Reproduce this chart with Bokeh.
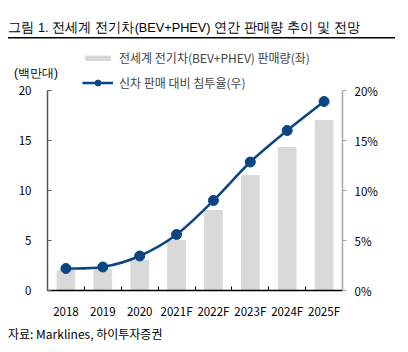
from bokeh.plotting import figure
from bokeh.layouts import column
from bokeh.models import (Range1d, LinearAxis, FixedTicker, Legend, LegendItem,
                          ColumnDataSource, Div)
from bokeh.embed import file_html
from bokeh.resources import INLINE

years = ["2018", "2019", "2020", "2021F", "2022F", "2023F", "2024F", "2025F"]
sales = [2.0, 2.1, 3.0, 5.0, 8.0, 11.5, 14.3, 17.0]          # million units (left)
share = [2.2, 2.35, 3.45, 5.6, 9.0, 12.85, 16.0, 18.9]        # % (right)
left_ticks = [0, 5, 10, 15, 20]
right_ticks = [0, 5, 10, 15, 20]
title_text = "그림 1. 전세계 전기차(BEV+PHEV) 연간 판매량 추이 및 전망"
unit_text = "(백만대)"
bar_label = "전세계 전기차(BEV+PHEV) 판매량(좌)"
line_label = "신차 판매 대비 침투율(우)"
source_text = "자료: Marklines, 하이투자증권"

FONT = "Noto Sans CJK KR"
BAR = "#d9d9d9"
LINE = "#0a4584"
W = 408
TOP_H = 82

# ---------------- top strip (inline SVG text): title, rule, unit ----------------
top_html = (
    f'<svg xmlns="http://www.w3.org/2000/svg" width="{W}" height="{TOP_H}" '
    f'style="display:block;position:absolute;left:0;top:0;overflow:visible;" '
    f'font-family="{FONT}" fill="#000">'
    f'<text x="8" y="27" dominant-baseline="central" font-size="13.5" '
    f'textLength="352" lengthAdjust="spacingAndGlyphs">{title_text}</text>'
    f'<line x1="8" x2="395" y1="37.75" y2="37.75" stroke="#000" stroke-width="1.5"/>'
    f'<text x="14" y="73" dominant-baseline="central" font-size="12">{unit_text}</text>'
    '</svg>'
)
top = Div(text=top_html, width=W, height=TOP_H, margin=0,
          styles={"position": "relative", "overflow": "visible"})

# ---------------- main chart ----------------
xs = list(range(len(years)))
n = len(xs)
FRAME_TOP = 46           # px from page top where the plot frame starts
FRAME_BOTTOM = 290
PX_PER_UNIT = 10.0
BOTTOM_SPACE = 36
ytop = 20 + (90 - FRAME_TOP) / PX_PER_UNIT

p = figure(width=W, height=FRAME_BOTTOM - FRAME_TOP + BOTTOM_SPACE, output_backend="svg",
           toolbar_location=None,
           x_range=Range1d(-0.5, n - 0.5), y_range=Range1d(0, ytop),
           min_border_left=47, min_border_right=66, min_border_top=0,
           min_border_bottom=BOTTOM_SPACE, margin=(FRAME_TOP - TOP_H, 0, 0, 0))
p.extra_y_ranges = {"pct": Range1d(0, ytop)}
p.grid.visible = False
p.outline_line_color = None
p.background_fill_alpha = 0
p.border_fill_alpha = 0

src = ColumnDataSource(dict(x=xs, sales=sales, share=share))
bars = p.vbar(x="x", top="sales", width=0.48, color=BAR, source=src)

# smooth line via Catmull-Rom bezier segments computed from the data
x0, y0, x1, y1, cx0, cy0, cx1, cy1 = [], [], [], [], [], [], [], []
t = 1 / 6
for i in range(n - 1):
    pa = (xs[max(i - 1, 0)], share[max(i - 1, 0)])
    pb = (xs[i], share[i])
    pc = (xs[i + 1], share[i + 1])
    pd = (xs[min(i + 2, n - 1)], share[min(i + 2, n - 1)])
    x0.append(pb[0]); y0.append(pb[1]); x1.append(pc[0]); y1.append(pc[1])
    cx0.append(pb[0] + (pc[0] - pa[0]) * t); cy0.append(pb[1] + (pc[1] - pa[1]) * t)
    cx1.append(pc[0] - (pd[0] - pb[0]) * t); cy1.append(pc[1] - (pd[1] - pb[1]) * t)
curve = p.bezier(x0=x0, y0=y0, x1=x1, y1=y1, cx0=cx0, cy0=cy0, cx1=cx1, cy1=cy1,
                 line_color=LINE, line_width=2.5, y_range_name="pct")
dots = p.scatter(x="x", y="share", source=src, size=10, color=LINE, y_range_name="pct")

# axes
xa = p.xaxis[0]
xa.ticker = FixedTicker(ticks=xs, minor_ticks=[i + 0.5 for i in range(-1, n)])
xa.major_label_overrides = {i: y for i, y in enumerate(years)}
xa.major_tick_in = 0
xa.major_tick_out = 0
xa.minor_tick_in = 4
xa.minor_tick_out = 0
xa.minor_tick_line_color = "#000000"
xa.axis_line_color = "#000000"
xa.axis_line_width = 1.5
xa.major_label_standoff = 12

ya = p.yaxis[0]
ya.ticker = FixedTicker(ticks=left_ticks)
ya.bounds = (0, 20)
ya.major_tick_in = 4
ya.major_tick_out = 0
ya.minor_tick_line_color = None
ya.axis_line_color = "#595959"
ya.axis_line_width = 1.5
ya.major_tick_line_color = "#595959"
ya.major_label_standoff = 16

ra = LinearAxis(y_range_name="pct", ticker=FixedTicker(ticks=right_ticks), bounds=(0, 20))
ra.major_label_overrides = {v: f"{v}%" for v in right_ticks}
ra.major_tick_in = 0
ra.major_tick_out = 4
ra.minor_tick_line_color = None
ra.axis_line_color = "#a6a6a6"
ra.axis_line_width = 1.5
ra.major_tick_line_color = "#a6a6a6"
ra.major_label_standoff = 8
p.add_layout(ra, "right")

for ax in (xa, ya, ra):
    ax.major_label_text_font = FONT
    ax.major_label_text_font_size = "11.5px"
    ax.major_label_text_color = "#000000"

# legends (locations in px from the frame's bottom-left corner)
leg1 = Legend(items=[LegendItem(label=bar_label, renderers=[bars])],
              location=(35, FRAME_BOTTOM - 66), glyph_width=31, glyph_height=6, label_height=12,
              label_text_font=FONT, label_text_font_size="12px", background_fill_alpha=0,
              border_line_color=None, padding=0, margin=0, label_standoff=6)
leg2 = Legend(items=[LegendItem(label=line_label, renderers=[curve, dots])],
              location=(35, FRAME_BOTTOM - 91), glyph_width=31, glyph_height=15, label_height=12,
              label_text_font=FONT, label_text_font_size="12px", background_fill_alpha=0,
              border_line_color=None, padding=0, margin=0, label_standoff=6)
p.add_layout(leg1, "center")
p.add_layout(leg2, "center")

# ---------------- bottom strip (HTML): source ----------------
bot_h = 352 - (FRAME_BOTTOM + BOTTOM_SPACE)
bot_html = (
    f'<div style="width:{W}px;height:{bot_h}px;margin:0;padding:0;font-family:\'{FONT}\';color:#000;">'
    f'<div style="margin:0;padding:{334 - 8 - (FRAME_BOTTOM + BOTTOM_SPACE)}px 0 0 8px;height:16px;'
    f'font-size:12px;line-height:16px;white-space:nowrap;">{source_text}</div>'
    '</div>'
)
bot = Div(text=bot_html, width=W, height=bot_h, margin=0)

layout = column(top, p, bot, spacing=0)
open("out.html", "w").write(file_html(layout, INLINE))
